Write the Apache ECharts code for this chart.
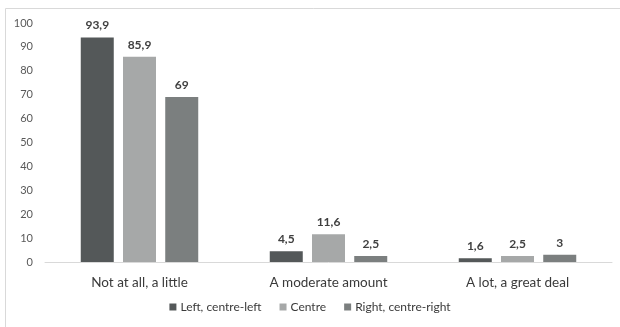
<!DOCTYPE html>
<html>
<head>
<meta charset="utf-8">
<script src="https://cdn.jsdelivr.net/npm/echarts@6/dist/echarts.min.js"></script>
<style>
  html, body { margin: 0; padding: 0; background: #fff; }
  #main { width: 620px; height: 327px; }
</style>
</head>
<body>
<div id="main"></div>
<script>
  // data
  var categories = ['Not at all, a little', 'A moderate amount', 'A lot, a great deal']
  var seriesNames = ['Left, centre-left', 'Centre', 'Right, centre-right']
  var leftVals = [93.9, 4.5, 1.6]
  var centreVals = [85.9, 11.6, 2.5]
  var rightVals = [69, 2.5, 3]
  var colors = ['#545859', '#a6a8a8', '#7b7f7f']

  var chart = echarts.init(document.getElementById('main'))
  var font = 'Lato, "Open Sans", sans-serif'

  function bar (name, data, color) {
    return {
      name: name,
      type: 'bar',
      data: data,
      barWidth: 33,
      barGap: '28%',
      itemStyle: { color: color },
      label: {
        show: true,
        position: 'top',
        distance: 6,
        fontFamily: font,
        fontWeight: 'bold',
        fontSize: 12,
        color: '#404040',
        formatter: function (p) { return String(p.value).replace('.', ',') }
      }
    }
  }

  chart.setOption({
    animation: false,
    textStyle: { fontFamily: font },
    graphic: [{
      type: 'rect',
      shape: { x: 5.5, y: 8.5, width: 700, height: 400 },
      style: { fill: 'none', stroke: '#d9d9d9', lineWidth: 1 },
      silent: true
    }],
    grid: { left: 45, right: 8, top: 23, bottom: 65 },
    legend: {
      data: seriesNames,
      bottom: 9,
      left: 'center',
      icon: 'rect',
      itemWidth: 7,
      itemHeight: 7,
      itemGap: 18,
      textStyle: { fontFamily: font, fontSize: 12, color: '#3a3a3a', padding: [0, 0, 0, -1] }
    },
    xAxis: {
      type: 'category',
      data: categories,
      axisLine: { lineStyle: { color: '#d9d9d9' } },
      axisTick: { show: false },
      axisLabel: { fontFamily: font, fontSize: 13.5, color: '#3a3a3a', margin: 14 }
    },
    yAxis: {
      type: 'value',
      min: 0,
      max: 100,
      interval: 10,
      splitLine: { show: false },
      axisLine: { show: false },
      axisTick: { show: false },
      axisLabel: { fontFamily: font, fontSize: 11, color: '#595959', margin: 12 }
    },
    series: [
      bar(seriesNames[0], leftVals, colors[0]),
      bar(seriesNames[1], centreVals, colors[1]),
      bar(seriesNames[2], rightVals, colors[2])
    ]
  })
</script>
</body>
</html>
